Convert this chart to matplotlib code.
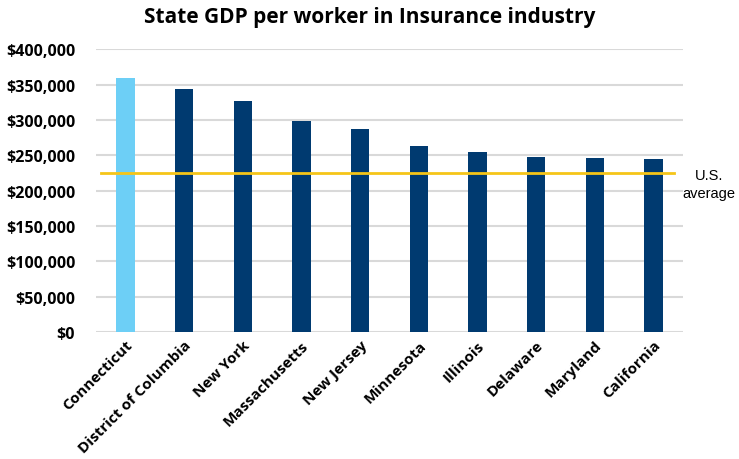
import matplotlib
matplotlib.use("Agg")
import matplotlib.pyplot as plt
from matplotlib.ticker import FuncFormatter

states = ["Connecticut", "District of Columbia", "New York", "Massachusetts",
          "New Jersey", "Minnesota", "Illinois", "Delaware", "Maryland", "California"]
gdp_per_worker = [358600, 344000, 326600, 298300, 287000, 263500, 254000, 247500, 246000, 244000]
us_average = 225400
y_ticks = [0, 50000, 100000, 150000, 200000, 250000, 300000, 350000, 400000]

colors = ["#6DCFF6"] + ["#003A70"] * (len(states) - 1)

fig = plt.figure(figsize=(7.39, 4.60), dpi=100)
ax = fig.add_axes([0.130, 0.276, 0.794, 0.615])

x = list(range(len(states)))
ax.bar(x, gdp_per_worker, width=0.31, color=colors, zorder=3)
ax.axhline(us_average, xmin=0.009, xmax=0.985, color="#F5C518", linewidth=2, zorder=4)

ax.set_xlim(-0.5, len(states) - 0.5)
ax.set_ylim(0, 400000)
ax.set_yticks(y_ticks)
ax.yaxis.set_major_formatter(FuncFormatter(lambda v, p: f"${int(v):,}"))
ax.grid(axis="y", color="#d9d9d9", linewidth=1.5, zorder=0)
ax.set_axisbelow(True)
for s in ax.spines.values():
    s.set_visible(False)
ax.tick_params(axis="both", length=0)
ax.tick_params(axis="y", pad=15)
ax.tick_params(axis="x", pad=4)

ax.set_xticks(x)
ax.set_xticklabels(states, rotation=45, ha="right", rotation_mode="anchor",
                   fontsize=11, fontweight="bold", family="Open Sans")
for lbl in ax.get_yticklabels():
    lbl.set_fontsize(11.5)
    lbl.set_fontweight("bold")
    lbl.set_family("Open Sans")

fig.text(0.5, 0.962, "State GDP per worker in Insurance industry", ha="center", va="center",
         fontsize=15, fontweight="bold", family="Open Sans")

fig.text(709 / 739, 1 - 185 / 460, "U.S.\naverage",
         ha="center", va="center", fontsize=10.5, family="Liberation Sans", linespacing=1.3)

fig.savefig("out.png", dpi=100)
